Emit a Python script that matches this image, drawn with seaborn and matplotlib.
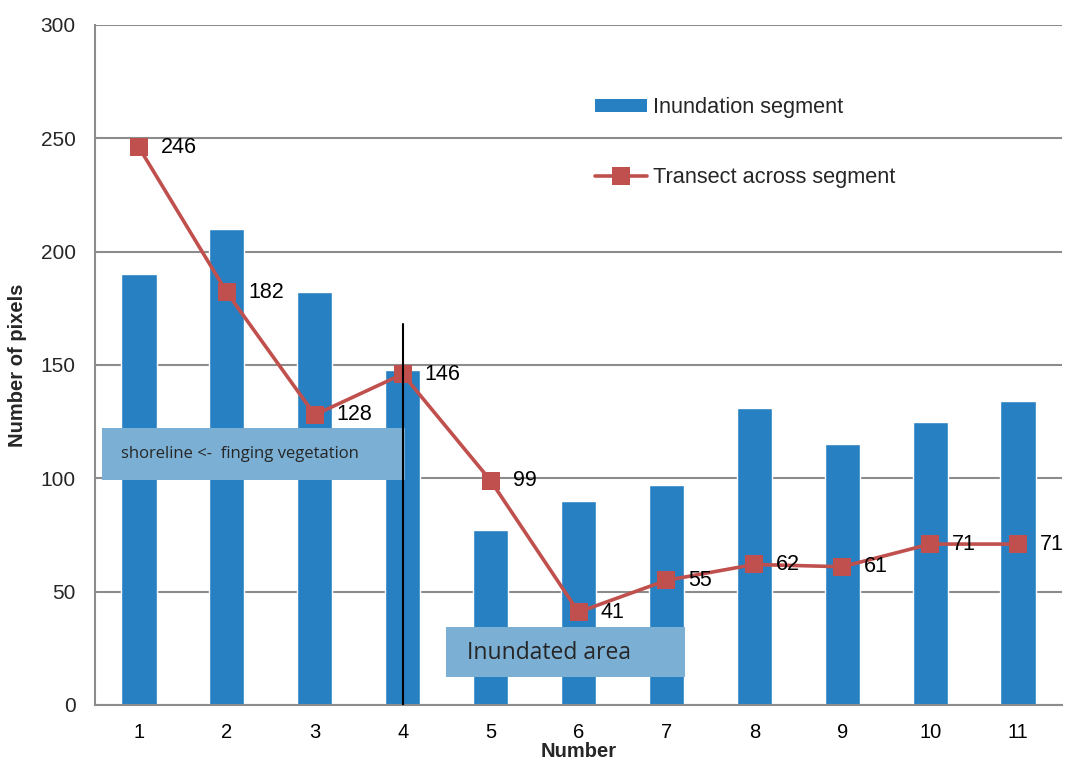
import numpy as np
import pandas as pd
import matplotlib
matplotlib.use("Agg")
import matplotlib.pyplot as plt
import seaborn as sns
from matplotlib.patches import Patch, Rectangle
from matplotlib.lines import Line2D

numbers = ["1", "2", "3", "4", "5", "6", "7", "8", "9", "10", "11"]
segment = [190, 210, 182, 148, 77, 90, 97, 131, 115, 125, 134]
transect = [246, 182, 128, 146, 99, 41, 55, 62, 61, 71, 71]
yticks = [0, 50, 100, 150, 200, 250, 300]

bar_color = "#2680C2"
line_color = "#C0504D"
box_color = "#7BAFD4"
grid_color = "#8C8C8C"

sns.set_theme(style="white")
plt.rcParams["font.family"] = ["Liberation Sans", "DejaVu Sans"]

fig = plt.figure(figsize=(10.67, 7.61), dpi=100)
ax = fig.add_axes([95/1067, 1-705/761, (1062-95)/1067, (705-25)/761])

df = pd.DataFrame({"Number": numbers, "segment": segment, "transect": transect})
df["pos"] = np.arange(len(numbers))

sns.barplot(data=df, x="Number", y="segment", order=numbers, color=bar_color,
            width=0.4, saturation=1, ax=ax, zorder=2)
sns.lineplot(data=df, x="pos", y="transect", color=line_color, lw=2.6,
             marker="s", markersize=13, markeredgewidth=0, ax=ax, zorder=4)

ax.set_xlim(-0.5, len(numbers) - 0.5)
ax.set_ylim(0, 300)
ax.set_yticks(yticks)
ax.set_yticklabels([str(v) for v in yticks], fontsize=15)
ax.set_xticks(np.arange(len(numbers)))
ax.set_xticklabels(numbers, fontsize=14.5)
ax.set_xticks(np.arange(len(numbers) + 1) - 0.5, minor=True)
ax.tick_params(axis="x", which="major", length=0, pad=13, colors="black")
ax.tick_params(axis="x", which="minor", length=7, width=1.5, color=grid_color, direction="out")
ax.tick_params(axis="y", which="major", length=7, width=1.5, color=grid_color, direction="out", pad=7)
ax.yaxis.grid(True, color=grid_color, lw=1.5, zorder=0)
ax.set_axisbelow(True)
for s in ["top", "right"]:
    ax.spines[s].set_visible(False)
for s in ["left", "bottom"]:
    ax.spines[s].set_color(grid_color)
    ax.spines[s].set_linewidth(1.5)

ax.set_xlabel("Number", fontsize=14.5, fontweight="bold", labelpad=0)
ax.set_ylabel("Number of pixels", fontsize=14.5, fontweight="bold", labelpad=10)

# data labels
for i, v in enumerate(transect):
    ax.annotate(str(v), (i, v), xytext=(22, 0), textcoords="offset pixels",
                ha="left", va="center", fontsize=15.5, color="black", zorder=6,
                annotation_clip=False)

# vertical marker line at number 4
ax.plot([3, 3], [0, 168], color="black", lw=1.5, zorder=5)

# annotation boxes
ax.add_patch(Rectangle((-0.424, 99.3), 3.45, 22.9, facecolor=box_color, edgecolor="none", zorder=3))
ax.text(-0.20, 110.7, "shoreline <-  finging vegetation", fontsize=12, family=["Open Sans", "DejaVu Sans"],
        va="center", ha="left", zorder=6)
ax.add_patch(Rectangle((3.49, 12.5), 2.72, 22.0, facecolor=box_color, edgecolor="none", zorder=3))
ax.text(3.735, 23.0, "Inundated area", fontsize=16.5, family=["Open Sans", "DejaVu Sans"],
        va="center", ha="left", zorder=6)

handles = [Patch(facecolor=bar_color, edgecolor="none"),
           Line2D([0], [0], color=line_color, lw=2.6, marker="s", markersize=13, markeredgewidth=0)]
ax.legend(handles, ["Inundation segment", "Transect across segment"], loc="upper left",
          bbox_to_anchor=(595/1067, 1-97/761), bbox_transform=fig.transFigure,
          frameon=False, fontsize=15.7, handlelength=2.4, handleheight=0.55,
          handletextpad=0.28, labelspacing=2.25, borderpad=0, borderaxespad=0)

fig.savefig("out.png", dpi=100)
